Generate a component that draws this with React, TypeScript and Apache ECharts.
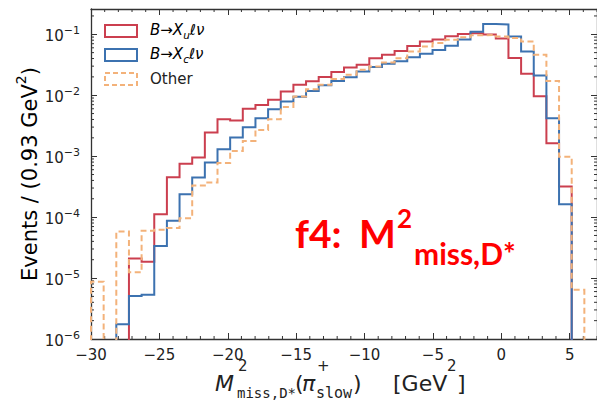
import React, { useEffect, useRef } from "react";
import * as echarts from "echarts";

// Histogram binning: 40 bins from -30 to 7 GeV^2
const BIN_START = -30;
const BIN_WIDTH = 0.925;
const N_BINS = 40;

// Normalised event fractions per bin
const xuValues = [
  0, 0, 0, 2.1e-5, 1.86e-5, 1.11e-4, 4.5e-4, 7.5e-4, 9.5e-4, 2.44e-3,
  4.05e-3, 3.85e-3, 6.0e-3, 6.9e-3, 8.4e-3, 1.15e-2, 1.48e-2, 1.7e-2, 2.0e-2, 2.4e-2,
  2.85e-2, 3.15e-2, 4.06e-2, 4.6e-2, 5.3e-2, 6.4e-2, 7.6e-2, 8.2e-2, 9.3e-2, 0.101,
  0.104, 0.099, 0.085, 4.1e-2, 2.25e-2, 9.6e-3, 1.63e-3, 3.17e-4, 0, 0,
];
const xcValues = [
  0, 0, 1.74e-6, 5.1e-6, 5.3e-6, 3.37e-5, 8.7e-5, 2.38e-4, 4.46e-4, 7.9e-4,
  1.3e-3, 2.02e-3, 2.99e-3, 4.2e-3, 5.9e-3, 7.9e-3, 9.4e-3, 1.17e-2, 1.46e-2, 1.72e-2,
  1.98e-2, 2.45e-2, 2.9e-2, 3.3e-2, 3.6e-2, 4.2e-2, 4.8e-2, 5.5e-2, 6.5e-2, 8.2e-2,
  0.11, 0.147, 0.145, 9.2e-2, 5.2e-2, 2.1e-2, 4.2e-3, 1.63e-4, 0, 0,
];
const otherValues = [
  8.7e-6, 0, 5.8e-5, 1.24e-5, 6.0e-5, 6.2e-5, 6.6e-5, 9.6e-5, 3.3e-4, 3.7e-4,
  7.7e-4, 1.22e-3, 1.78e-3, 2.7e-3, 4.05e-3, 6.4e-3, 9.5e-3, 1.25e-2, 1.48e-2, 1.84e-2,
  2.16e-2, 2.61e-2, 2.96e-2, 3.44e-2, 4.06e-2, 5.2e-2, 6.3e-2, 7.2e-2, 8.1e-2, 8.9e-2,
  9.6e-2, 9.8e-2, 9.2e-2, 8.7e-2, 7.6e-2, 4.6e-2, 1.72e-2, 9.8e-4, 6.4e-6, 0,
];

const xTickLabels = [-30, -25, -20, -15, -10, -5, 0, 5];
const yTickExponents = [-6, -5, -4, -3, -2, -1];

const X_MIN = -30;
const X_MAX = 7;
const Y_MIN = 1e-6;
const Y_MAX = 0.26;
const FLOOR = 1e-9; // empty bins drop below the visible log range

const RED = "#cb3f4f";
const BLUE = "#3c72b0";
const ORANGE = "#f3b27a";
const AXIS = "#333333";
const TEXT = "#222222";
const FONT = '"DejaVu Sans"';

const edges = Array.from({ length: N_BINS + 1 }, (_, k) => BIN_START + k * BIN_WIDTH);

function stepPoints(values: number[]) {
  const pts: number[][] = [[edges[0], FLOOR]];
  values.forEach((v, k) => {
    const y = v > 0 ? v : FLOOR;
    pts.push([edges[k], y], [edges[k + 1], y]);
  });
  pts.push([edges[N_BINS], FLOOR]);
  return pts;
}

const minus = (v: number) => (v < 0 ? "\u2212" + Math.abs(v) : String(v));

const xMinor: number[][] = [];
for (let v = Math.ceil(X_MIN); v <= Math.floor(X_MAX); v++) {
  if (v % 5 !== 0) xMinor.push([v, 1e-3]);
}
const yMinor: number[][] = [];
for (const e of yTickExponents) {
  for (let m = 2; m <= 9; m++) {
    const v = m * Math.pow(10, e);
    if (v < Y_MAX) yMinor.push([0, v]);
  }
}

function txt(x: number, y: number, text: string, font: string, fill = TEXT, extra: any = {}) {
  return {
    type: "text",
    x,
    y,
    silent: true,
    style: { text, font, fill, textAlign: "left", textVerticalAlign: "middle", ...extra },
  };
}

const legendRich = {
  i: { fontSize: 15, fontFamily: FONT, fontStyle: "italic", color: TEXT, lineHeight: 18, verticalAlign: "top" },
  n: { fontSize: 15, fontFamily: FONT, color: TEXT, lineHeight: 18, verticalAlign: "top" },
  u: { fontSize: 10.5, fontFamily: FONT, fontStyle: "italic", color: TEXT, lineHeight: 10, verticalAlign: "bottom" },
};

export default function App() {
  const ref = useRef<HTMLDivElement>(null);

  useEffect(() => {
    if (!ref.current) return;
    const chart = echarts.init(ref.current, null, { renderer: "svg" });

    const xAxisBase = {
      type: "value",
      min: X_MIN,
      max: X_MAX,
      interval: 5,
      axisLine: { show: true, onZero: false, lineStyle: { color: AXIS, width: 1.3 } },
      axisTick: { show: true, inside: true, length: 6, lineStyle: { color: AXIS, width: 1 } },
      splitLine: { show: false },
      minorTick: { show: false },
    };
    const yAxisBase = {
      type: "log",
      logBase: 10,
      min: Y_MIN,
      max: Y_MAX,
      splitNumber: 6,
      axisLine: { show: true, onZero: false, lineStyle: { color: AXIS, width: 1.3 } },
      axisTick: { show: true, inside: true, length: 6, lineStyle: { color: AXIS, width: 1 } },
      splitLine: { show: false },
      minorTick: { show: false },
    };

    const tickStyle = { stroke: AXIS, lineWidth: 1 };

    const option: any = {
      animation: false,
      grid: { left: 91, top: 9, width: 508, height: 330 },
      xAxis: [
        {
          ...xAxisBase,
          position: "bottom",
          axisLabel: {
            show: true,
            margin: 8,
            fontSize: 15,
            fontFamily: FONT,
            color: TEXT,
            formatter: (v: number) =>
              xTickLabels.includes(Math.round(v)) && Math.abs(v - Math.round(v)) < 1e-6 ? minus(Math.round(v)) : "",
          },
        },
        { ...xAxisBase, position: "top", axisLabel: { show: false } },
      ],
      yAxis: [
        {
          ...yAxisBase,
          position: "left",
          axisLabel: {
            show: true,
            margin: 11,
            color: TEXT,
            fontFamily: FONT,
            formatter: (v: number) => {
              const lg = Math.log10(v);
              const e = Math.round(lg);
              if (Math.abs(lg - e) > 1e-6 || !yTickExponents.includes(e)) return "";
              return `{b|10}{s|${minus(e)}}`;
            },
            rich: {
              b: { fontSize: 15, fontFamily: FONT, color: TEXT, lineHeight: 18, verticalAlign: "bottom" },
              s: { fontSize: 11, fontFamily: FONT, color: TEXT, lineHeight: 10, verticalAlign: "top" },
            },
          },
        },
        { ...yAxisBase, position: "right", axisLabel: { show: false } },
      ],
      series: [
        {
          name: "xu",
          type: "line",
          data: stepPoints(xuValues),
          showSymbol: false,
          symbol: "none",
          clip: true,
          silent: true,
          lineStyle: { color: RED, width: 2, join: "miter" },
        },
        {
          name: "xc",
          type: "line",
          data: stepPoints(xcValues),
          showSymbol: false,
          symbol: "none",
          clip: true,
          silent: true,
          lineStyle: { color: BLUE, width: 2, join: "miter" },
        },
        {
          name: "other",
          type: "line",
          data: stepPoints(otherValues),
          showSymbol: false,
          symbol: "none",
          clip: true,
          silent: true,
          lineStyle: { color: ORANGE, width: 2, type: [6, 3.5], join: "miter" },
        },
        {
          type: "custom",
          silent: true,
          data: xMinor,
          renderItem: (params: any, api: any) => {
            const cs = params.coordSys;
            const px = api.coord([api.value(0), api.value(1)])[0];
            const b = cs.y + cs.height;
            return {
              type: "group",
              children: [
                { type: "line", shape: { x1: px, y1: b, x2: px, y2: b - 3 }, style: tickStyle },
                { type: "line", shape: { x1: px, y1: cs.y, x2: px, y2: cs.y + 3 }, style: tickStyle },
              ],
            };
          },
        },
        {
          type: "custom",
          silent: true,
          data: yMinor,
          renderItem: (params: any, api: any) => {
            const cs = params.coordSys;
            const py = api.coord([X_MIN, api.value(1)])[1];
            const r = cs.x + cs.width;
            return {
              type: "group",
              children: [
                { type: "line", shape: { x1: cs.x, y1: py, x2: cs.x + 3, y2: py }, style: tickStyle },
                { type: "line", shape: { x1: r, y1: py, x2: r - 3, y2: py }, style: tickStyle },
              ],
            };
          },
        },
      ],
      graphic: [
        // legend
        { type: "rect", silent: true, shape: { x: 105, y: 25, width: 32, height: 12 }, style: { fill: "none", stroke: RED, lineWidth: 2 } },
        { type: "rect", silent: true, shape: { x: 105, y: 49, width: 32, height: 12 }, style: { fill: "none", stroke: BLUE, lineWidth: 2 } },
        { type: "rect", silent: true, shape: { x: 105, y: 73, width: 32, height: 12 }, style: { fill: "none", stroke: ORANGE, lineWidth: 2, lineDash: [5, 3] } },
        {
          type: "text",
          x: 150,
          y: 31,
          silent: true,
          style: { text: "{i|B}{n|\u2192}{i|X}{u|u}{i|\u2113\u03bd}", textAlign: "left", textVerticalAlign: "middle", rich: legendRich },
        },
        {
          type: "text",
          x: 150,
          y: 55,
          silent: true,
          style: { text: "{i|B}{n|\u2192}{i|X}{u|c}{i|\u2113\u03bd}", textAlign: "left", textVerticalAlign: "middle", rich: legendRich },
        },
        txt(150, 79, "Other", `15px ${FONT}`),
        // y axis title
        {
          type: "text",
          x: 27,
          y: 174,
          rotation: Math.PI / 2,
          silent: true,
          style: {
            text: "{n|Events / (0.93 GeV}{s|2}{n|)}",
            textAlign: "center",
            textVerticalAlign: "middle",
            rich: {
              n: { fontSize: 21, fontFamily: FONT, color: TEXT, lineHeight: 26, verticalAlign: "bottom" },
              s: { fontSize: 14, fontFamily: FONT, color: TEXT, lineHeight: 14, verticalAlign: "top" },
            },
          },
        },
        // x axis title
        txt(215, 383, "M", `italic 22px ${FONT}`),
        txt(238, 366, "2", `15px ${FONT}`),
        txt(237, 393, "miss,D*", `14px "DejaVu Sans Mono"`),
        txt(295, 383, "(", `22px ${FONT}`),
        txt(302, 383, "\u03c0", `italic 22px ${FONT}`),
        txt(317, 366, "+", `15px ${FONT}`),
        txt(316, 393, "slow", `15px "DejaVu Sans Mono"`),
        txt(353, 383, ")", `22px ${FONT}`),
        txt(393, 383, "[GeV", `22px ${FONT}`),
        txt(447, 366, "2", `15px ${FONT}`),
        txt(457, 383, "]", `22px ${FONT}`),
        // annotation
        txt(295, 233, "f4:", `bold 39px Lato`, "#ff0000"),
        txt(359, 233, "M", `bold 39px Lato`, "#ff0000"),
        txt(397, 218, "2", `bold 26px Lato`, "#ff0000"),
        txt(414, 253, "miss,D*", `bold 30px Lato`, "#ff0000"),
      ],
    };

    chart.setOption(option);
    return () => chart.dispose();
  }, []);

  return (
    <div style={{ position: "fixed", left: 0, top: 0, width: 597, height: 402, overflow: "hidden", background: "#fff" }}>
      <div ref={ref} style={{ width: 600, height: 402 }} />
    </div>
  );
}
